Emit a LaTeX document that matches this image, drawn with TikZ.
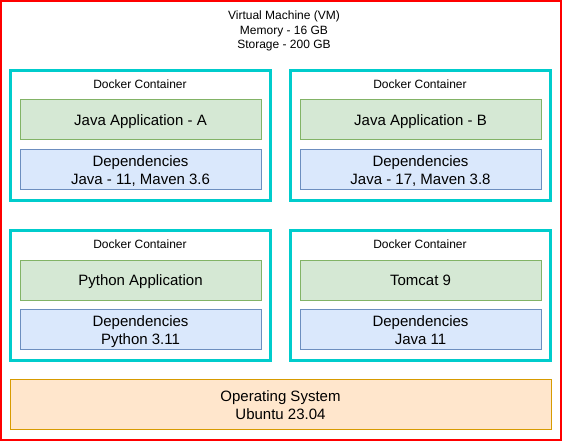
\documentclass[tikz,border=0pt]{standalone}
\usepackage{fontspec}
\setmainfont{Liberation Sans}
\definecolor{vmred}{HTML}{FF0000}
\definecolor{dockerteal}{HTML}{00CCCC}
\definecolor{appfill}{HTML}{D5E8D4}
\definecolor{appline}{HTML}{82B366}
\definecolor{depfill}{HTML}{DAE8FC}
\definecolor{depline}{HTML}{6C8EBF}
\definecolor{osfill}{HTML}{FFE6CC}
\definecolor{osline}{HTML}{D79B00}
\tikzset{
  vmbox/.style={draw=vmred, line width=1.5pt, rectangle, minimum width=560pt, minimum height=439pt, inner sep=0pt},
  container/.style={draw=dockerteal, line width=3pt, rectangle, minimum width=260pt, minimum height=130pt, inner sep=0pt},
  appbox/.style={draw=appline, fill=appfill, line width=1pt, rectangle, minimum width=241pt, minimum height=40pt, inner sep=0pt, text height=13.6pt, text depth=3.2pt, font=\fontsize{15}{18}\selectfont},
  depbox/.style={draw=depline, fill=depfill, line width=1pt, rectangle, minimum width=241pt, minimum height=40pt, inner sep=0pt, align=center, text height=31.6pt, text depth=3.2pt, font=\fontsize{15}{18}\selectfont},
  osbox/.style={draw=osline, fill=osfill, line width=1pt, rectangle, minimum width=541pt, minimum height=50pt, inner sep=0pt, align=center, text height=31.6pt, text depth=3.2pt, font=\fontsize{15}{18}\selectfont},
  smalltext/.style={inner sep=0pt, align=center, font=\fontsize{12}{14.4}\selectfont}
}
\begin{document}
\begin{tikzpicture}[x=1pt, y=-1pt]
  \useasboundingbox (0, 0) rectangle (563, 443);
  \node (vm) [vmbox] at (281, 220.5) {};
  \node (vmlabel) [smalltext] at (284, 31) {Virtual Machine (VM)\\Memory - 16 GB\\Storage - 200 GB};

  % top row
  \node (dockerA) [container] at (140, 135.5) {};
  \node (dockerAlabel) [smalltext] at (140, 84.5) {Docker Container};
  \node (javaA) [appbox] at (140.5, 120) {Java Application - A};
  \node (depsA) [depbox] at (140.5, 170) {Dependencies\\Java - 11, Maven 3.6};

  \node (dockerB) [container] at (420, 135.5) {};
  \node (dockerBlabel) [smalltext] at (420, 84.5) {Docker Container};
  \node (javaB) [appbox] at (420.5, 120) {Java Application - B};
  \node (depsB) [depbox] at (420.5, 170) {Dependencies\\Java - 17, Maven 3.8};

  % bottom row
  \node (dockerC) [container] at (140, 295.5) {};
  \node (dockerClabel) [smalltext] at (140, 244.5) {Docker Container};
  \node (python) [appbox] at (140.5, 280.5) {Python Application};
  \node (depsC) [depbox] at (140.5, 330) {Dependencies\\Python 3.11};

  \node (dockerD) [container] at (420, 295.5) {};
  \node (dockerDlabel) [smalltext] at (420, 244.5) {Docker Container};
  \node (tomcat) [appbox] at (420.5, 280.5) {Tomcat 9};
  \node (depsD) [depbox] at (420.5, 330) {Dependencies\\Java 11};

  \node (os) [osbox] at (280.5, 405) {Operating System\\Ubuntu 23.04};
\end{tikzpicture}
\end{document}
